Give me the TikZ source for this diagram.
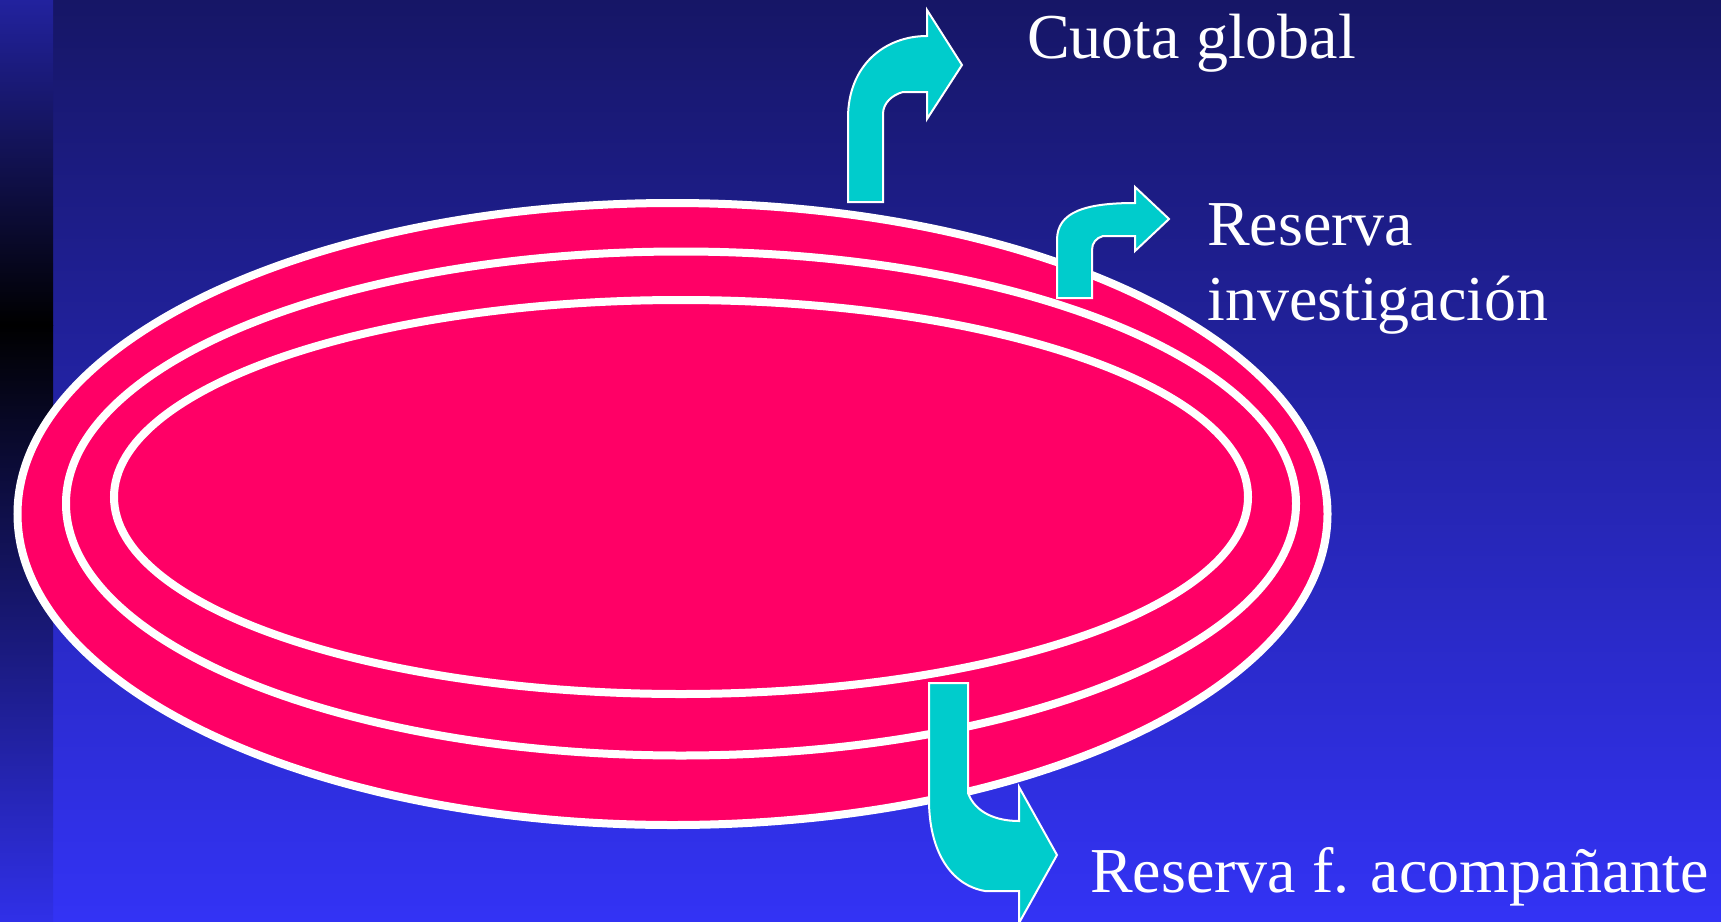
\documentclass[tikz,border=0pt]{standalone}
\usepackage{fontspec}
\setmainfont{Liberation Serif}
\definecolor{bgtop}{RGB}{22,22,102}
\definecolor{bgbot}{RGB}{51,51,245}
\definecolor{striptop}{RGB}{34,34,158}
\definecolor{stripbot}{RGB}{48,48,232}
\definecolor{ring}{RGB}{255,0,102}
\definecolor{arrowcyan}{RGB}{0,204,204}
\tikzset{
  ringstyle/.style={fill=ring, draw=white, line width=8pt},
  bentarrow/.style={fill=arrowcyan, draw=white, line width=2pt, line join=miter},
  label/.style={text=white, anchor=base west, inner sep=0pt, font=\fontsize{64}{75}\selectfont, align=left}
}
\begin{document}
\begin{tikzpicture}[x=1pt,y=-1pt]
\useasboundingbox (0,0) rectangle (1721,921);
% background
\shade[top color=bgtop, bottom color=bgbot] (0,0) rectangle (1721,921);
\shade[top color=striptop, bottom color=black] (0,0) rectangle (53,325);
\shade[top color=black, bottom color=stripbot] (0,325) rectangle (53,921);
% rings
\path[ringstyle] (672.5,514) ellipse [x radius=655pt, y radius=311pt];
\path[ringstyle] (681,503.5) ellipse [x radius=615pt, y radius=252pt];
\path[ringstyle] (681,497) ellipse [x radius=567pt, y radius=197pt];
% arrows
\path[bentarrow] (848,202) -- (848,118) .. controls (848,65) and (885,36) .. (927,36)
  -- (927,10) -- (962,65) -- (927,119) -- (927,92) -- (903,92)
  .. controls (892,95) and (883,103) .. (883,114) -- (883,202) -- cycle;
\path[bentarrow] (1057,298) -- (1057,240) .. controls (1057,212) and (1085,203) .. (1135,203)
  -- (1135,187) -- (1169,219) -- (1135,251) -- (1135,236) -- (1103,236)
  .. controls (1096,238) and (1092,243) .. (1092,250) -- (1092,298) -- cycle;
\path[bentarrow] (929,683) -- (968,683) -- (968,793) .. controls (975,812) and (995,821) .. (1019,821)
  -- (1019,787) -- (1057,855) -- (1019,923) -- (1019,891) -- (985,891)
  .. controls (950,885) and (929,850) .. (929,800) -- cycle;
% labels
\node[label] (cuota) at (1027,58) {Cuota global};
\node[label] (resinv) at (1207,320) {Reserva\\investigación};
\node[label] (resfa) at (1090,892) {Reserva f. acompañante};
\end{tikzpicture}
\end{document}
